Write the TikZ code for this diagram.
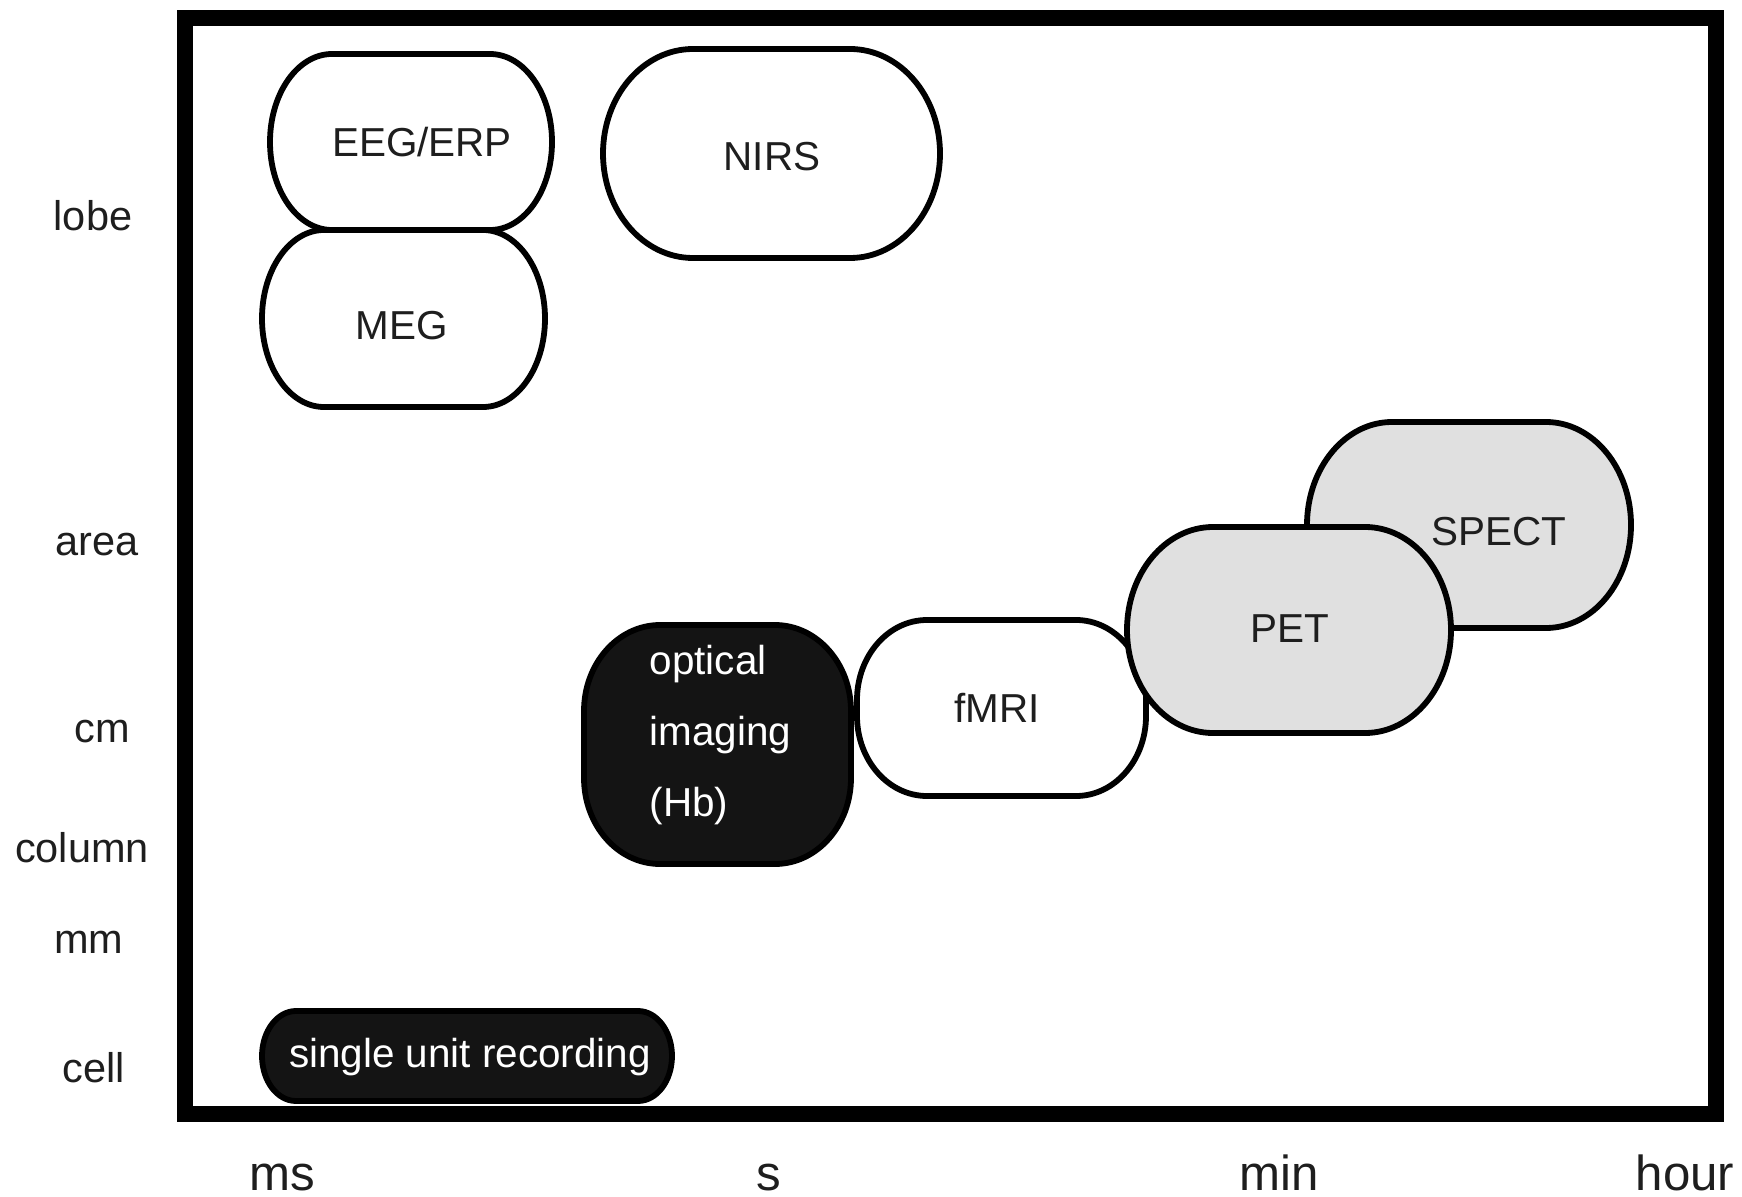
\documentclass[tikz,border=0pt]{standalone}
\usepackage{fontspec}
\setmainfont{Liberation Sans}
\definecolor{pillgray}{HTML}{E0E0E0}
\definecolor{pillblack}{HTML}{141414}
\definecolor{textgray}{HTML}{1E1E1E}
\newcommand\pillpath[7]{%
  \path[#1] (#2+#6,#3) -- (#4-#6,#3)
    arc[start angle=90,end angle=0,x radius=#6*0.01cm,y radius=#7*0.01cm]
    -- (#4,#5+#7)
    arc[start angle=0,end angle=-90,x radius=#6*0.01cm,y radius=#7*0.01cm]
    -- (#2+#6,#5)
    arc[start angle=270,end angle=180,x radius=#6*0.01cm,y radius=#7*0.01cm]
    -- (#2,#3-#7)
    arc[start angle=180,end angle=90,x radius=#6*0.01cm,y radius=#7*0.01cm]
    -- cycle;}
\begin{document}
\begin{tikzpicture}[x=0.01cm,y=0.01cm,
  pill/.style={line width=1.65pt, draw=black},
  whitepill/.style={pill, fill=white},
  graypill/.style={pill, fill=pillgray},
  blackpill/.style={pill, fill=pillblack},
  lbl/.style={font=\fontsize{11.5}{13.8}\selectfont, text=textgray, anchor=base, inner sep=0pt},
  wlbl/.style={lbl, text=white, anchor=base west},
  axlbl/.style={font=\fontsize{11.8}{14}\selectfont, text=textgray, anchor=base, inner sep=0pt},
  timelbl/.style={font=\fontsize{14}{16}\selectfont, text=textgray, anchor=base, inner sep=0pt},
  frame/.style={line width=0.16cm, draw=black, line join=miter}]
\useasboundingbox (0,0) rectangle (1742,1196);
\fill[white] (0,0) rectangle (1742,1196);
% frame
\draw[frame] (185,82) rectangle (1716,1178);
% pills
\pillpath{whitepill}{270}{1142}{552}{966}{62}{88}
\node[lbl] (eeg) at (422,1039) {EEG/ERP};
\pillpath{whitepill}{262}{966}{545}{789}{62}{88.5}
\node[lbl] (meg) at (402,856) {MEG};
\pillpath{whitepill}{603}{1147}{940}{938}{90}{104.5}
\node[lbl] (nirs) at (772,1025) {NIRS};
\pillpath{graypill}{1307}{774}{1631}{568}{85}{103}
\node[lbl] (spect) at (1499,651) {SPECT};
\pillpath{blackpill}{584}{571}{851}{332}{76}{86}
\node[wlbl] (opt1) at (649,522) {optical};
\node[wlbl] (opt2) at (649,451) {imaging};
\node[wlbl] (opt3) at (649,380) {(Hb)};
\pillpath{whitepill}{857}{576}{1146}{400}{70}{80}
\node[lbl] (fmri) at (997,474) {fMRI};
\pillpath{graypill}{1127}{669}{1451}{463}{86}{103}
\node[lbl] (pet) at (1290,554) {PET};
\pillpath{blackpill}{262}{185}{672}{95}{34}{45}
\node[lbl, text=white] (sur) at (470,129) {single unit recording};
% axis labels
\node[axlbl] (lobe) at (93,965) {lobe};
\node[axlbl] (area) at (97,640) {area};
\node[axlbl] (cm) at (102,454) {cm};
\node[axlbl] (column) at (82,334) {column};
\node[axlbl] (mm) at (89,243) {mm};
\node[axlbl] (cell) at (94,114) {cell};
\node[timelbl] (ms) at (282,6) {ms};
\node[timelbl] (s) at (769,6) {s};
\node[timelbl] (min) at (1279,6) {min};
\node[timelbl] (hour) at (1685,6) {hour};
\end{tikzpicture}
\end{document}
